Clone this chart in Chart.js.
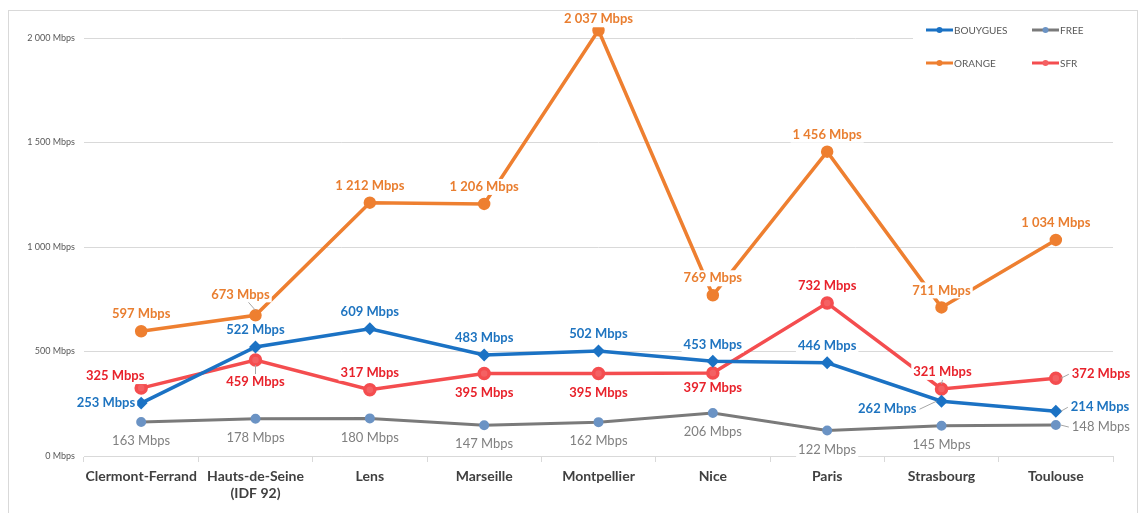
<!DOCTYPE html>
<html>
<head>
<meta charset="utf-8">
<script src="https://cdn.jsdelivr.net/npm/chart.js@4"></script>
<style>
  body { margin: 0; background: #fff; }
  #wrap { position: relative; width: 1139px; height: 513px; }
  #frame { position: absolute; left: 8px; top: 10px; width: 1128px; height: 510px; border: 1px solid #d9d9d9; pointer-events: none; }
</style>
</head>
<body>
<div id="wrap">
  <canvas id="chart" width="1139" height="513"></canvas>
  <div id="frame"></div>
</div>
<script>
'use strict';

let cities = ['Clermont-Ferrand', ['Hauts-de-Seine', '(IDF 92)'], 'Lens', 'Marseille', 'Montpellier', 'Nice', 'Paris', 'Strasbourg', 'Toulouse'];
let bouygues = [253, 522, 609, 483, 502, 453, 446, 262, 214];
let free = [163, 178, 180, 147, 162, 206, 122, 145, 148];
let orange = [597, 673, 1212, 1206, 2037, 769, 1456, 711, 1034];
let sfr = [325, 459, 317, 395, 395, 397, 732, 321, 372];
let yTicks = [0, 500, 1000, 1500, 2000];

// label placement: [align, dx, dy, leader]
let bouyguesPos = [['right', -6, 0], ['center', 0, -17], ['center', 0, -17], ['center', 0, -17], ['center', 0, -17], ['center', 0, -17], ['center', 0, -17], ['right', -25, 8, 1], ['left', 15, -4, 1]];
let freePos = [['center', 0, 19], ['center', 0, 19], ['center', 0, 19], ['center', 0, 19], ['center', 0, 19], ['center', 0, 19], ['center', 0, 19], ['center', 0, 19], ['left', 16, 2, 1]];
let orangePos = [['center', 0, -17], ['center', -15, -21, 1], ['center', 0, -17], ['center', 0, -17], ['center', 0, -11], ['center', 0, -17], ['center', 0, -17], ['center', 0, -17], ['center', 0, -17]];
let sfrPos = [['center', -26, -12], ['center', 0, 22, 1], ['center', 0, -17], ['center', 0, 19], ['center', 0, 19], ['center', 0, 15], ['center', 0, -17], ['center', 1, -17, 1], ['left', 16, -4, 1]];

function fmt(v) {
  return String(v).replace(/\B(?=(\d{3})+(?!\d))/g, ' ') + ' Mbps';
}

let labelPlugin = {
  id: 'pointLabels',
  afterDatasetsDraw(chart) {
    let ctx = chart.ctx;
    chart.data.datasets.forEach(function (ds, i) {
      let meta = chart.getDatasetMeta(i);
      meta.data.forEach(function (pt, j) {
        let p = ds.labelPos[j];
        let x = pt.x + p[1];
        let y = pt.y + p[2];
        let text = fmt(ds.data[j]);
        ctx.save();
        ctx.font = (ds.labelBold ? 'bold ' : '') + '13px Lato';
        let w = ctx.measureText(text).width;
        let left = p[0] === 'left' ? x : (p[0] === 'right' ? x - w : x - w / 2);
        ctx.fillStyle = '#fff';
        ctx.fillRect(left - 2, y - 8, w + 4, 16);
        if (p[3]) {
          ctx.strokeStyle = '#a6a6a6';
          ctx.lineWidth = 1;
          ctx.beginPath();
          let lx = p[0] === 'left' ? x - 3 : (p[0] === 'right' ? x + 3 : x + (p[1] < 0 ? 8 : 0));
          let ly = p[0] === 'center' ? y + (p[2] < 0 ? 8 : -8) : y;
          ctx.moveTo(lx, ly);
          ctx.lineTo(pt.x + (p[0] === 'left' ? 5 : (p[0] === 'right' ? -5 : 0)), pt.y + (p[0] === 'center' ? (p[2] < 0 ? -5 : 5) : 0));
          ctx.stroke();
        }
        ctx.fillStyle = ds.labelColor;
        ctx.textAlign = p[0];
        ctx.textBaseline = 'middle';
        ctx.fillText(text, x, y);
        ctx.restore();
      });
    });
  }
};

let legendPlugin = {
  id: 'boxLegend',
  beforeDatasetsDraw(chart) {
    let ctx = chart.ctx;
    ctx.save();
    ctx.fillStyle = '#fff';
    ctx.fillRect(913, 14, 205, 70);
    ctx.restore();
  },
  afterDraw(chart) {
    let ctx = chart.ctx;
    let spots = [[926, 30], [1032, 30], [926, 63], [1032, 63]];
    chart.data.datasets.forEach(function (ds, i) {
      let s = spots[i];
      ctx.save();
      ctx.strokeStyle = ds.borderColor;
      ctx.lineWidth = 3;
      ctx.beginPath();
      ctx.moveTo(s[0], s[1]);
      ctx.lineTo(s[0] + 27, s[1]);
      ctx.stroke();
      ctx.fillStyle = ds.pointBackgroundColor;
      ctx.beginPath();
      ctx.arc(s[0] + 13.5, s[1], 3, 0, Math.PI * 2);
      ctx.fill();
      ctx.fillStyle = '#595959';
      ctx.font = '10px Lato';
      ctx.textBaseline = 'middle';
      ctx.fillText(ds.label, s[0] + 28, s[1] + 1);
      ctx.restore();
    });
  }
};

const ctx = document.getElementById('chart');

new Chart(ctx, {
  type: 'line',
  data: {
    labels: cities,
    datasets: [
      {
        label: 'BOUYGUES',
        data: bouygues,
        borderColor: '#1b72c4',
        backgroundColor: '#1b72c4',
        pointBackgroundColor: '#1b72c4',
        pointStyle: 'rectRot',
        pointRadius: 4,
        borderWidth: 3.5,
        labelColor: '#1e74c0',
        labelBold: true,
        labelPos: bouyguesPos,
        order: 2,
      },
      {
        label: 'FREE',
        data: free,
        borderColor: '#7a7a7a',
        backgroundColor: '#7a7a7a',
        pointBackgroundColor: '#6b93c4',
        pointBorderColor: '#6b93c4',
        pointRadius: 3.5,
        borderWidth: 3,
        labelColor: '#808080',
        labelBold: false,
        labelPos: freePos,
        order: 4,
      },
      {
        label: 'ORANGE',
        data: orange,
        borderColor: '#ee7f30',
        backgroundColor: '#ee7f30',
        pointBackgroundColor: '#ee7f30',
        pointRadius: 4.5,
        borderWidth: 3.5,
        labelColor: '#e97e30',
        labelBold: true,
        labelPos: orangePos,
        order: 1,
      },
      {
        label: 'SFR',
        data: sfr,
        borderColor: '#f44d4f',
        backgroundColor: '#f44d4f',
        pointBackgroundColor: '#f46163',
        pointBorderColor: '#f44d4f',
        pointRadius: 5,
        borderWidth: 3.5,
        labelColor: '#e8222b',
        labelBold: true,
        labelPos: sfrPos,
        order: 3,
      },
    ],
  },
  options: {
    responsive: false,
    animation: false,
    layout: { padding: { top: 38, right: 26, left: 0, bottom: 0 } },
    elements: { line: { tension: 0 }, point: { borderWidth: 1 } },
    datasets: { line: { clip: false } },
    plugins: {
      legend: { display: false },
      tooltip: { enabled: false },
    },
    scales: {
      x: {
        offset: true,
        afterFit(scale) { scale.height = 57; },
        grid: { display: true, drawOnChartArea: false, drawTicks: true, tickLength: 6, offset: true, color: '#d9d9d9' },
        border: { color: '#d9d9d9', width: 1 },
        ticks: { color: '#404040', font: { family: 'Lato', size: 14, weight: 'bold' }, padding: 6, maxRotation: 0, autoSkip: false },
      },
      y: {
        min: 0,
        max: 2000,
        afterFit(scale) { scale.width = 84; },
        afterBuildTicks(scale) { scale.ticks = yTicks.map(function (v) { return { value: v }; }); },
        grid: { color: '#d9d9d9', drawTicks: false },
        border: { display: false },
        ticks: {
          color: '#595959',
          font: { family: 'Lato', size: 9 },
          padding: 9,
          callback: function (v) { return fmt(v); },
        },
      },
    },
  },
  plugins: [legendPlugin, labelPlugin],
});
</script>
</body>
</html>
